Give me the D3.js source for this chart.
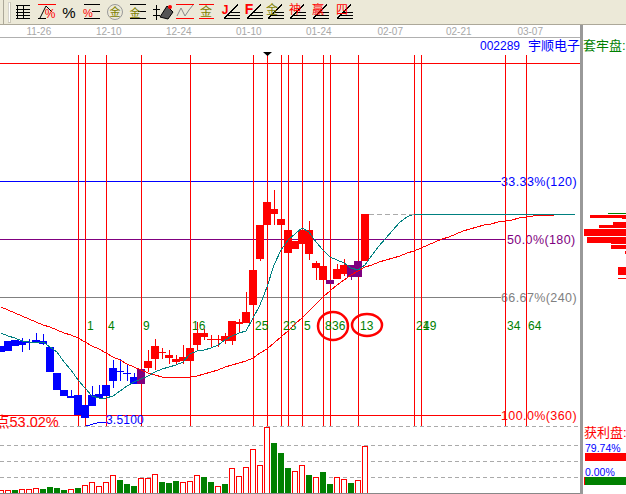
<!DOCTYPE html>
<html><head><meta charset="utf-8">
<script src="https://cdn.jsdelivr.net/npm/d3@7"></script>
<style>html,body{margin:0;padding:0;background:#fff;overflow:hidden}svg{display:block}
text{font-family:"Liberation Sans","Noto Sans CJK SC",sans-serif}
line,rect,path.ma,polyline{shape-rendering:crispEdges}</style></head>
<body><svg id="c" width="626" height="494"></svg>
<script>
// price candles: open, close, high, low
const opens=[4.17,4.18,4.23,4.24,4.26,4.26,4.25,4.22,3.96,3.79,3.73,3.74,3.64,3.74,3.75,3.84,4.01,3.97,3.96,3.92,4.00,4.01,4.10,4.16,4.11,4.07,4.08,4.08,4.24,4.32,4.29,4.29,4.28,4.28,4.45,4.46,4.64,5.10,5.44,5.55,5.44,5.16,5.20,5.25,5.15,5.01,4.89,4.85,4.90,4.95,4.92,4.92,5.08];
const closes=[4.23,4.28,4.29,4.28,4.27,4.29,4.28,3.97,3.79,3.73,3.71,3.54,3.51,3.63,3.71,3.73,3.88,3.98,3.95,3.85,3.85,4.08,4.23,4.17,4.14,4.10,4.12,4.21,4.36,4.36,4.30,4.30,4.33,4.48,4.47,4.57,4.99,5.44,5.67,5.60,5.50,5.39,5.28,5.39,5.39,5.06,5.03,4.89,5.00,5.04,5.04,5.08,5.55];
const highs=[4.23,4.28,4.29,4.31,4.30,4.36,4.35,4.22,3.96,3.79,3.79,3.74,3.64,3.83,3.84,3.84,4.09,4.10,4.04,3.96,4.00,4.19,4.30,4.21,4.19,4.14,4.24,4.21,4.47,4.40,4.34,4.34,4.36,4.48,4.50,4.77,4.99,5.44,5.79,5.79,5.50,5.39,5.28,5.41,5.48,5.08,5.04,4.89,5.05,5.10,5.04,5.08,5.55];
const lows=[4.17,4.18,4.23,4.17,4.19,4.26,4.24,3.97,3.79,3.73,3.71,3.54,3.51,3.63,3.71,3.73,3.81,3.88,3.88,3.85,3.85,3.97,3.99,4.10,4.05,4.04,4.05,4.08,4.19,4.29,4.22,4.22,4.25,4.24,4.36,4.46,4.64,5.08,5.44,5.44,5.44,5.16,5.20,5.25,5.09,4.89,4.89,4.85,4.90,4.93,4.89,4.92,5.08];
const maShort=[4.36,4.33,4.31,4.28,4.27,4.27,4.27,4.22,4.17,4.07,3.99,3.89,3.81,3.73,3.71,3.71,3.73,3.78,3.83,3.87,3.90,3.93,3.97,4.00,4.02,4.04,4.07,4.15,4.18,4.19,4.21,4.24,4.29,4.33,4.36,4.38,4.51,4.64,4.82,5.04,5.19,5.29,5.35,5.41,5.37,5.27,5.19,5.12,5.09,5.06,5.01,4.99,5.04,5.14,5.23,5.31,5.39,5.47,5.52,5.55,5.55,5.55,5.55,5.55,5.55,5.55,5.55,5.55,5.55,5.55,5.55,5.55,5.55,5.55,5.55,5.55,5.55,5.55,5.55,5.55,5.55,5.55,5.55];
const maLong=[4.62,4.59,4.56,4.53,4.50,4.47,4.44,4.42,4.39,4.36,4.34,4.31,4.27,4.23,4.20,4.16,4.12,4.09,4.05,4.02,3.99,3.96,3.94,3.92,3.92,3.91,3.92,3.92,3.93,3.95,3.97,3.99,4.02,4.04,4.06,4.08,4.11,4.16,4.20,4.26,4.32,4.38,4.45,4.51,4.58,4.65,4.72,4.78,4.84,4.89,4.94,4.98,5.02,5.04,5.07,5.09,5.11,5.13,5.16,5.18,5.21,5.24,5.27,5.30,5.32,5.35,5.38,5.40,5.42,5.44,5.45,5.47,5.48,5.49,5.51,5.52,5.53,5.54,5.54,5.54];
const volumes=[9,9,10,12,12,16,13,19,16,10,12,16,24,33,22,33,54,40,28,22,46,46,58,34,31,37,34,36,55,47,32,22,26,76,52,79,133,85,199,149,119,74,67,85,53,49,62,26,49,43,29,40,142];
const volUp=[1,1,0,1,1,1,0,0,0,0,1,0,1,1,1,1,1,0,0,0,1,1,1,0,0,0,1,1,1,0,0,1,0,1,1,1,1,1,1,0,0,0,1,1,0,1,0,0,1,1,0,1,1];
const dateLabels=["11-26","12-10","12-24","01-10","01-24","02-07","02-21","03-07"];
const dateIdx=[5.4,15.4,25.4,35.4,45.4,55.6,65.4,75.6];
const fibDays=[11,12,15,20,27,36,38,40,41,43,46,47,51,59,60,72,75];
const fibLabels=["","1","4","9","16","25","","23","","5","8","36","13","21","49","34","64"];
const levelPrices=[7.06,5.88,5.30,4.72,3.54];
const levelNames=["","33.33%(120)","50.0%(180)","66.67%(240)","100.0%(360)"];
const levelColors=["#ff0000","#0000ff","#800080","#808080","#ff0000"];
const chipPrices=[5.54,5.51,5.47,5.44,5.40,5.32,5.27,5.24,5.18,5.02,4.91];
const chipThick=[3,1,3,3,7,6,2,4,3,8,1];
const chipSize=[36,4,13,27,42,39,15,15,1,8,8];

const svg=d3.select("#c");
const X=d3.scaleLinear().domain([0,82]).range([1,575]);
const Y=d3.scaleLinear().domain([7.69,2.75]).range([0,494]);
const V=d3.scaleLinear().domain([0,199]).range([493,426.7]);
const font=(s,sz,col,x,y,anc)=>svg.append("text").attr("x",x).attr("y",y).attr("fill",col).attr("font-size",sz).attr("text-anchor",anc||"start").text(s);
const barColor=i=>[20,47,50,51].includes(i)?"#800080":(i<20?"#0000ff":"#ff0000");
const seg=(x1,y1,x2,y2,c)=>svg.append("line").attr("x1",x1).attr("y1",y1).attr("x2",x2).attr("y2",y2).attr("stroke",c);

// toolbar
svg.append("rect").attr("width",626).attr("height",24).attr("fill","#ece9d8");
svg.append("rect").attr("y",24).attr("width",626).attr("height",1).attr("fill","#aca899");
svg.append("rect").attr("x",3).attr("width",1).attr("height",24).attr("fill","#aca899");
svg.append("rect").attr("x",8).attr("y",2).attr("width",2).attr("height",20).attr("fill","#fff").attr("stroke","#aca899").attr("stroke-width",.5);
// table icon
seg(17.5,5,17.5,19,"#000");seg(23.5,5,23.5,19,"#000");
[5.5,9.5,12.5,15.5,18.5].forEach(y=>seg(16,y,30,y,"#000"));
// percent icons
seg(38,4.5,56,4.5,"#f00");seg(38,18.5,46,18.5,"#000");svg.append("path").attr("d","M40,18L46,6L52,12").attr("fill","none").attr("stroke","#000");
font("%",12,"#f00",50,18,"middle");
font("%",15,"#000",69,18,"middle");
[[84,100],[130,146]].forEach(d=>[4.5,11.5,18.5].forEach(y=>seg(d[0]+(y===4.5?0:8),y,d[1],y,"#000")));
seg(84,18.5,100,18.5,"#000");seg(130,18.5,146,18.5,"#000");seg(130,4.5,146,4.5,"#000");
font("%",11,"#f00",88,17,"middle");
svg.append("circle").attr("cx",115).attr("cy",12).attr("r",7.5).attr("fill","none").attr("stroke","#999");
font("金",11,"#808000",115,16,"middle");
font("金",11,"#808000",135,17,"middle");
// tower icon
seg(156.5,5,156.5,20,"#000");seg(153,9.5,160,9.5,"#000");seg(153,15.5,160,15.5,"#000");
svg.append("path").attr("d","M160,17L167,6L173,12L168,19Z").attr("fill","#555").attr("stroke","#000");
svg.append("circle").attr("cx",170).attr("cy",7).attr("r",2).attr("fill","#f00");
// wave icon
seg(176,4.5,194,4.5,"#f00");seg(176,18.5,194,18.5,"#f00");
svg.append("path").attr("d","M177,16L181,8L185,16L189,10L193,5").attr("fill","none").attr("stroke","#888");
seg(199,4.5,214,4.5,"#f00");seg(199,18.5,214,18.5,"#f00");
font("金",12,"#808000",206,16,"middle");
// fan icons
const fans=[[224,"J",225],[247,"F",249],[268,"金",272],[290,"神",295],[313,"赢",318],[337,"四",342]];
fans.forEach(f=>{
  const x0=f[0];
  seg(x0,18.5,x0+16,18.5,"#000");seg(x0+3,15.5,x0+16,15.5,"#000");seg(x0+6,12.5,x0+16,12.5,"#000");
  seg(x0,18.5,x0+14,4.5,"#000");
  font(f[1],f[1]==="F"?14:12,f[1]==="金"?"#808000":"#f00",f[2],14,"middle").attr("font-weight",f[1]==="F"||f[1]==="J"?"bold":"normal");
});

// dates
dateLabels.forEach((d,i)=>font(d,10,"#a8a8a8",X(dateIdx[i]),35,"middle"));
svg.append("rect").attr("y",37).attr("width",580).attr("height",1).attr("fill","#b0b0b0");
font("002289",12,"#0000ff",480,50).attr("letter-spacing",.0);
font("宇顺电子",13,"#0000ff",528,50);
font("套牢盘:",13,"#008000",583,50);
svg.append("rect").attr("x",580).attr("y",25).attr("width",3).attr("height",469).attr("fill","#999");

// levels
levelPrices.forEach((p,i)=>{const y=Math.round(Y(p))+.5;seg(0,y,i?(i===2?506:501):580,y,levelColors[i]);});
levelPrices.forEach((p,i)=>{ if(i) font(levelNames[i],12.5,levelColors[i],i===2?507:501,Y(p)+4.5).attr("letter-spacing",.4); });

// dashed volume grid
[426.5,445.5,461.5,477.5].forEach(y=>seg(0,y,580,y,"#aaa").attr("stroke-dasharray","4 3"));

// vertical fib lines
fibDays.forEach(d=>{const x=Math.round(X(d))+.5;seg(x,55,x,426,"#ff0000");});
fibDays.forEach((d,i)=>{ if(fibLabels[i]) font(fibLabels[i],12,"#008000",X(d)+2,330).attr("letter-spacing",.2); });

// volume
svg.selectAll(".v").data(volumes).join("rect")
 .attr("x",(d,i)=>Math.round(X(i))-2.5).attr("y",d=>Math.round(V(d))+.5).attr("width",5).attr("height",d=>492.5-Math.round(V(d)))
 .attr("fill",(d,i)=>volUp[i]?"#fff":"#008000").attr("stroke",(d,i)=>volUp[i]?"#f00":"#008000");
svg.append("rect").attr("y",493).attr("width",580).attr("height",1).attr("fill","#888");

// candles
opens.forEach((o,i)=>{
  const c=barColor(i),x=Math.round(X(i))+.5;
  seg(x,Y(highs[i]),x,Y(lows[i]),c);
  const t=Math.round(Y(Math.max(o,closes[i]))),b=Math.round(Y(Math.min(o,closes[i])));
  svg.append("rect").attr("x",Math.round(X(i))-4).attr("y",t).attr("width",8).attr("height",Math.max(1,b-t)).attr("fill",c);
});

// moving averages
const ln=d3.line().x((d,i)=>X(i)).y(d=>Y(d));
svg.append("path").attr("class","ma").attr("d",ln(maLong)).attr("fill","none").attr("stroke","#f00");
svg.append("path").attr("class","ma").attr("d",ln(maShort)).attr("fill","none").attr("stroke","#008080");
seg(X(52)+4,Y(5.55),X(59),Y(5.55),"#aaa").attr("stroke-dasharray","5 3");

// annotations
svg.append("path").attr("d","M263,52H272L267.5,56Z").attr("fill","#000");
svg.append("polyline").attr("points","86,426 97,423 106,422").attr("fill","none").attr("stroke","#0000ff");
font("3.5100",12,"#0000ff",106,424).attr("letter-spacing",.2);
font("点53.02%",14.5,"#ff0000",-5,427);
[[333,326,15,14],[367,325,15,11]].forEach(e=>svg.append("ellipse").attr("cx",e[0]).attr("cy",e[1]).attr("rx",e[2]).attr("ry",e[3]).attr("fill","none").attr("stroke","#f00").attr("stroke-width",2.5));

// right panel
chipPrices.forEach((p,i)=>svg.append("rect").attr("x",626-chipSize[i]).attr("y",Math.round(Y(p))).attr("width",chipSize[i]).attr("height",chipThick[i]).attr("fill","#f00"));
svg.append("rect").attr("x",608).attr("y",213).attr("width",18).attr("height",1).attr("fill","#008000");
font("获利盘:",13,"#ff0000",584,437);
font("79.74%",10.5,"#0000ff",585,452);
svg.append("rect").attr("x",585).attr("y",453).attr("width",41).attr("height",8).attr("fill","#f00");
font("0.00%",10.5,"#0000ff",585,476);
svg.append("rect").attr("x",584).attr("y",477).attr("width",42).attr("height",8).attr("fill","#008000");
svg.append("rect").attr("x",584).attr("y",477).attr("width",1).attr("height",8).attr("fill","#f00");
</script></body></html>
